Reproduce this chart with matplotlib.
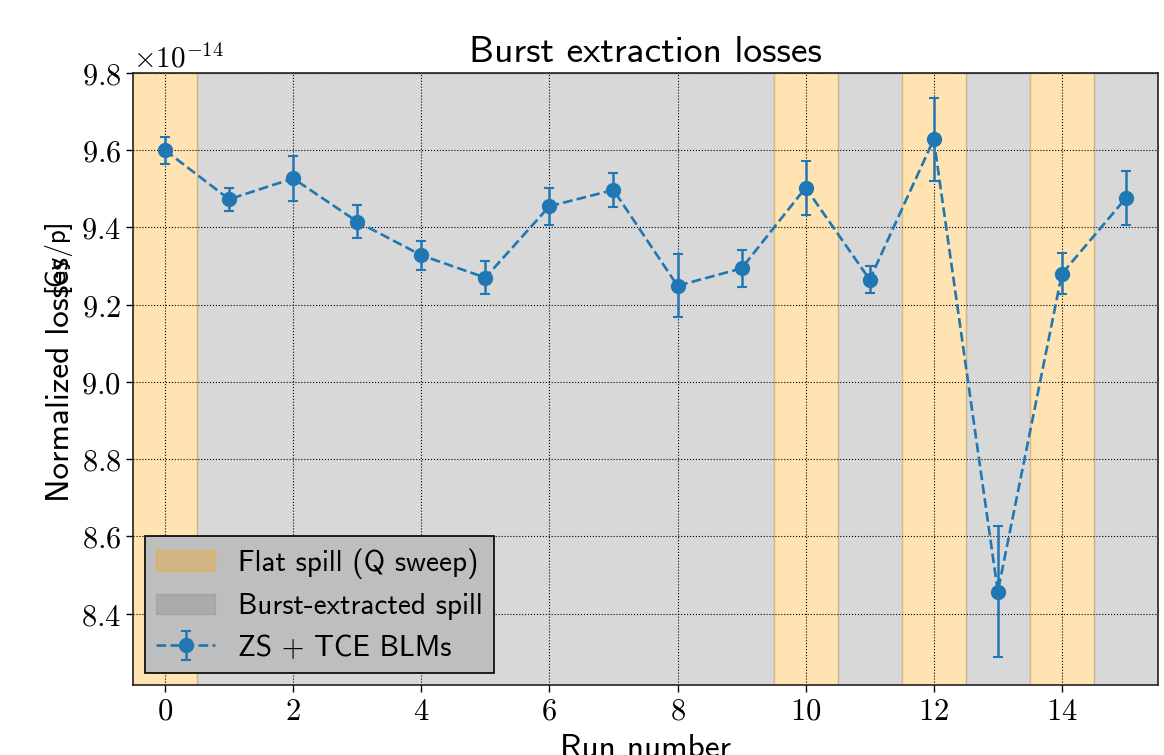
import numpy as np
import matplotlib.pyplot as plt
from matplotlib.ticker import FuncFormatter, MultipleLocator

plt.rcParams['mathtext.fontset'] = 'cm'
plt.rcParams['axes.unicode_minus'] = False

# Données : pertes normalisées par run (en Gy/p)
runs = np.arange(16)
losses = np.array([9.600, 9.473, 9.527, 9.415, 9.328, 9.270, 9.455, 9.497,
                   9.249, 9.294, 9.503, 9.265, 9.628, 8.457, 9.280, 9.476]) * 1e-14
errors = np.array([0.035, 0.030, 0.058, 0.043, 0.038, 0.042, 0.048, 0.043,
                   0.082, 0.048, 0.070, 0.036, 0.107, 0.169, 0.053, 0.070]) * 1e-14
flat_runs = [0, 10, 12, 14]   # runs en spill plat (Q sweep), le reste en burst

fig = plt.figure(figsize=(11.64, 7.55), dpi=100)
ax = fig.add_axes([0.1143, 0.0927, 0.8805, 0.8106])

# Regroupement des runs consécutifs de même type en une seule bande
blocs = []
for r in runs:
    plat = r in flat_runs
    if blocs and blocs[-1][2] == plat:
        blocs[-1][1] = r
    else:
        blocs.append([r, r, plat])

flat_done = False
burst_done = False
for debut, fin, plat in blocs:
    if plat:
        lab = None if flat_done else 'Flat spill (Q sweep)'
        ax.axvspan(debut - 0.5, fin + 0.5, color='orange', alpha=0.3, label=lab)
        flat_done = True
    else:
        lab = None if burst_done else 'Burst-extracted spill'
        ax.axvspan(debut - 0.5, fin + 0.5, color='gray', alpha=0.3, label=lab)
        burst_done = True

ax.errorbar(runs, losses, yerr=errors, fmt='o--', color='#1f77b4',
            markersize=10, linewidth=1.9, elinewidth=1.8, capsize=3.5,
            capthick=1.5, label='ZS + TCE BLMs')

ax.set_xlim(-0.5, 15.5)
ax.set_ylim(8.215e-14, 9.8e-14)
ax.xaxis.set_major_locator(MultipleLocator(2))
ax.yaxis.set_major_locator(MultipleLocator(0.2e-14))
ax.xaxis.set_major_formatter(FuncFormatter(lambda v, p: '$%d$' % v))
ax.yaxis.set_major_formatter(FuncFormatter(lambda v, p: '$%.1f$' % (v / 1e-14)))
ax.tick_params(labelsize=22, width=1.0, length=5)
ax.text(0.0, 1.0, r'$\times10^{-14}$', transform=ax.transAxes,
        fontsize=21, ha='left', va='bottom')

ax.grid(True, linestyle=':', color='black', linewidth=0.8)
for sp in ax.spines.values():
    sp.set_linewidth(1.2)
    sp.set_color('#222222')

ax.set_title('Burst extraction losses', family='cmss10', fontsize=27, pad=8)
ax.set_xlabel('Run number', family='cmss10', fontsize=24, labelpad=6)
ax.set_ylabel('Normalized losses', family='cmss10', fontsize=24)
ax.yaxis.set_label_coords(-0.057, 0.5)
# unité superposée à la fin du label
ax.text(-0.068, 0.642, '[Gy/p]', transform=ax.transAxes, family='cmss10',
        fontsize=19.5, rotation=90, rotation_mode='anchor',
        ha='left', va='baseline')

leg = ax.legend(loc='lower left', prop={'family': 'cmss10', 'size': 21},
                facecolor='#BEBEBE', edgecolor='black', framealpha=1,
                fancybox=False, borderaxespad=0.4, handlelength=2.0)
leg.get_frame().set_linewidth(1.2)

fig.savefig('out.png', dpi=100)
